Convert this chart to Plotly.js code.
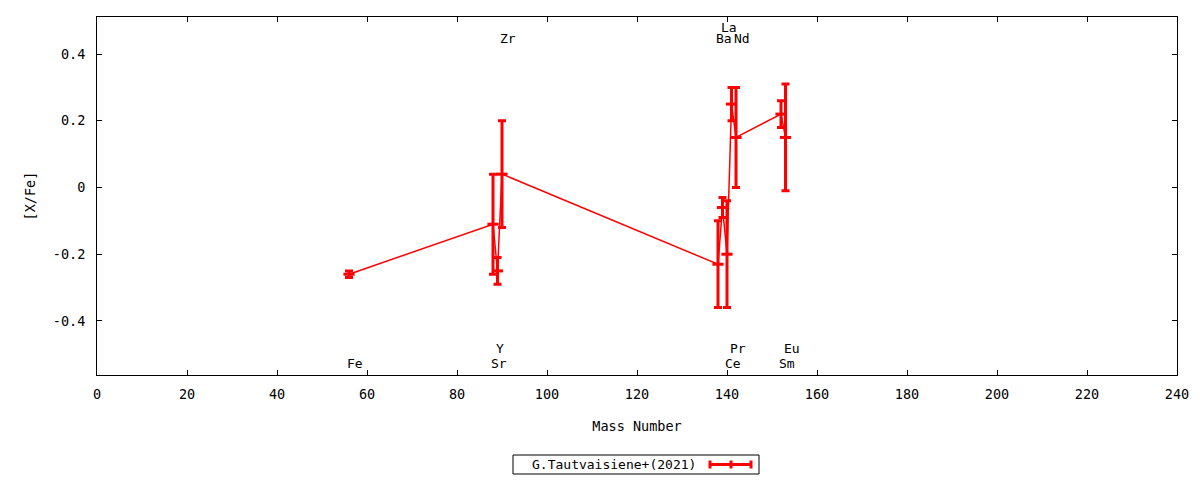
<!DOCTYPE html>
<html>
<head>
<meta charset="utf-8">
<script src="https://cdn.plot.ly/plotly-3.0.1.min.js"></script>
<style>
html,body{margin:0;padding:0;background:#fff;}
#chart{width:1200px;height:480px;}
</style>
</head>
<body>
<div id="chart"></div>
<script>
// ---- data ----
const elements   = ['Fe','Sr','Y','Zr','Ba','La','Ce','Pr','Nd','Sm','Eu'];
const massNumber = [56, 88, 89, 90, 138, 139, 140, 141, 142, 152, 153];
const xFe        = [-0.26, -0.11, -0.25, 0.04, -0.23, -0.06, -0.20, 0.25, 0.15, 0.22, 0.15];
const xFeErr     = [0.01, 0.15, 0.04, 0.16, 0.13, 0.03, 0.16, 0.05, 0.15, 0.04, 0.16];
// label row for each element: 'b1' lower-bottom, 'b2' upper-bottom, 't1' top, 't2' top-upper
const labelRow   = ['b1','b1','b2','t1','t1','t2','b1','b2','t1','b1','b2'];
const seriesName = 'G.Tautvaisiene+(2021)';
const xTicks     = [0,20,40,60,80,100,120,140,160,180,200,220,240];
const yTicks     = [-0.4,-0.2,0,0.2,0.4];
const yTickText  = ['-0.4','-0.2','0','0.2','0.4'];

const FONT = 'DejaVu Sans Mono, monospace';
const RED = '#ff0000';
const rowY = {b1:-0.529, b2:-0.484, t1:0.448, t2:0.481};

const trace = {
  x: massNumber, y: xFe, name: seriesName,
  type: 'scatter', mode: 'lines+markers',
  line: {color: RED, width: 1.5},
  marker: {symbol: 'line-ew', size: 8, color: RED, line: {color: RED, width: 3}},
  error_y: {type: 'data', array: xFeErr, visible: true, color: RED, thickness: 3, width: 4},
  showlegend: false, cliponaxis: false
};

const annotations = elements.map((el, i) => ({
  x: massNumber[i], y: rowY[labelRow[i]], xref: 'x', yref: 'y',
  text: el, showarrow: false, xanchor: 'left', yanchor: 'middle', xshift: -4,
  font: {family: FONT, size: 13, color: '#000'}
}));

// manual legend (text left, sample right as in the reference)
const px = v => (v - 97) / (1177 - 97);
const py = v => (375 - v) / (375 - 17);
annotations.push({
  x: px(530), y: py(464.5), xref: 'paper', yref: 'paper', text: seriesName,
  showarrow: false, xanchor: 'left', yanchor: 'middle',
  font: {family: FONT, size: 13, color: '#000'}
});
const shapes = [
  {type: 'rect', xref: 'paper', yref: 'paper', x0: px(513), x1: px(759), y0: py(455), y1: py(474),
   line: {color: '#000', width: 1}, fillcolor: 'rgba(0,0,0,0)'},
  {type: 'line', xref: 'paper', yref: 'paper', x0: px(709), x1: px(752), y0: py(464.5), y1: py(464.5),
   line: {color: RED, width: 3}},
  {type: 'line', xref: 'paper', yref: 'paper', x0: px(710), x1: px(710), y0: py(460.5), y1: py(468.5),
   line: {color: RED, width: 3}},
  {type: 'line', xref: 'paper', yref: 'paper', x0: px(751), x1: px(751), y0: py(460.5), y1: py(468.5),
   line: {color: RED, width: 3}},
  {type: 'line', xref: 'paper', yref: 'paper', x0: px(731), x1: px(731), y0: py(460.5), y1: py(468.5),
   line: {color: RED, width: 3}}
];

const layout = {
  width: 1200, height: 480,
  margin: {l: 97, r: 23, t: 17, b: 105},
  paper_bgcolor: '#fff', plot_bgcolor: '#fff',
  font: {family: FONT, size: 13, color: '#000'},
  xaxis: {
    range: [0, 240], tickvals: xTicks, ticktext: xTicks.map(String),
    ticks: 'inside', ticklen: 5, tickcolor: '#000', tickwidth: 1,
    showline: true, linecolor: '#000', linewidth: 1, mirror: 'ticks',
    showgrid: false, zeroline: false, ticklabelstandoff: 7,
    tickfont: {family: FONT, size: 13.5},
    title: {text: 'Mass Number', font: {family: FONT, size: 13.5}, standoff: 20}
  },
  yaxis: {
    range: [-0.562, 0.511], tickvals: yTicks, ticktext: yTickText,
    ticks: 'inside', ticklen: 5, tickcolor: '#000', tickwidth: 1,
    showline: true, linecolor: '#000', linewidth: 1, mirror: 'ticks',
    showgrid: false, zeroline: false, ticklabelstandoff: 8,
    tickfont: {family: FONT, size: 13.5},
    title: {text: '[X/Fe]', font: {family: FONT, size: 13.5}, standoff: 14}
  },
  annotations: annotations,
  shapes: shapes,
  showlegend: false
};

Plotly.newPlot('chart', [trace], layout, {displayModeBar: false, staticPlot: true});
</script>
</body>
</html>
